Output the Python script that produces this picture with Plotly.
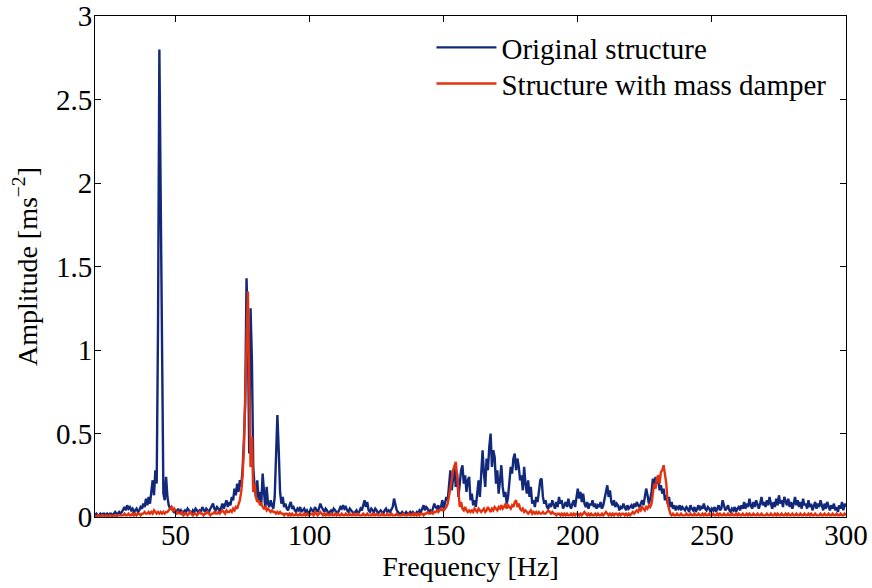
import numpy as np
import plotly.graph_objects as go

# Frequency grid (Hz), 0.5 Hz resolution
freq = np.arange(20.0, 300.0 + 0.25, 0.5)

# Acceleration amplitude spectrum of the original structure [m/s^2]
amp_original = [
    0.01, 0.02, 0.01, 0.01, 0.02, 0.01, 0.02, 0.02, 0.01, 0.02, 0.01, 0.02, 0.02, 0.01, 0.02, 0.03, 0.02, 0.02, 0.03, 0.02,
    0.03, 0.05, 0.06, 0.04, 0.07, 0.05, 0.06, 0.04, 0.05, 0.03, 0.04, 0.05, 0.03, 0.04, 0.06, 0.05, 0.08, 0.06, 0.11, 0.07,
    0.12, 0.08, 0.15, 0.22, 0.13, 0.28, 0.20, 1.15, 2.80, 1.90, 0.80, 0.14, 0.10, 0.24, 0.12, 0.07, 0.05, 0.06, 0.04, 0.03,
    0.04, 0.03, 0.05, 0.03, 0.04, 0.02, 0.03, 0.04, 0.03, 0.05, 0.04, 0.03, 0.02, 0.04, 0.03, 0.05, 0.04, 0.03, 0.04, 0.03,
    0.06, 0.04, 0.03, 0.05, 0.04, 0.03, 0.05, 0.07, 0.08, 0.05, 0.04, 0.06, 0.05, 0.03, 0.06, 0.08, 0.05, 0.07, 0.10, 0.06,
    0.09, 0.07, 0.12, 0.10, 0.17, 0.13, 0.20, 0.15, 0.22, 0.18, 0.28, 0.45, 0.68, 1.43, 1.10, 0.38, 1.25, 0.94, 0.30, 0.18,
    0.12, 0.22, 0.10, 0.15, 0.08, 0.26, 0.12, 0.05, 0.18, 0.08, 0.06, 0.10, 0.07, 0.05, 0.12, 0.35, 0.61, 0.40, 0.15, 0.08,
    0.12, 0.06, 0.08, 0.05, 0.04, 0.07, 0.09, 0.05, 0.06, 0.04, 0.03, 0.05, 0.04, 0.06, 0.03, 0.04, 0.05, 0.03, 0.04, 0.02,
    0.03, 0.05, 0.04, 0.03, 0.06, 0.04, 0.03, 0.05, 0.08, 0.06, 0.04, 0.03, 0.05, 0.04, 0.02, 0.03, 0.04, 0.03, 0.05, 0.04,
    0.03, 0.02, 0.04, 0.06, 0.05, 0.07, 0.05, 0.06, 0.04, 0.03, 0.05, 0.04, 0.03, 0.02, 0.03, 0.04, 0.02, 0.03, 0.05, 0.04,
    0.07, 0.10, 0.06, 0.09, 0.04, 0.03, 0.05, 0.04, 0.03, 0.05, 0.04, 0.02, 0.03, 0.04, 0.03, 0.02, 0.04, 0.05, 0.03, 0.04,
    0.03, 0.05, 0.06, 0.11, 0.07, 0.04, 0.03, 0.02, 0.02, 0.03, 0.02, 0.02, 0.03, 0.02, 0.02, 0.03, 0.02, 0.03, 0.02, 0.02,
    0.03, 0.02, 0.04, 0.03, 0.05, 0.07, 0.04, 0.06, 0.05, 0.03, 0.04, 0.03, 0.05, 0.08, 0.06, 0.05, 0.07, 0.04, 0.06, 0.10,
    0.05, 0.08, 0.12, 0.10, 0.20, 0.28, 0.16, 0.22, 0.30, 0.18, 0.26, 0.12, 0.20, 0.28, 0.31, 0.20, 0.25, 0.15, 0.22, 0.24,
    0.10, 0.14, 0.07, 0.10, 0.06, 0.15, 0.22, 0.12, 0.30, 0.40, 0.26, 0.18, 0.35, 0.28, 0.42, 0.50, 0.30, 0.40, 0.36, 0.20,
    0.28, 0.14, 0.22, 0.31, 0.18, 0.12, 0.15, 0.08, 0.12, 0.20, 0.30, 0.26, 0.35, 0.38, 0.28, 0.35, 0.30, 0.22, 0.25, 0.16,
    0.30, 0.20, 0.14, 0.22, 0.12, 0.18, 0.08, 0.10, 0.06, 0.12, 0.09, 0.15, 0.22, 0.23, 0.12, 0.08, 0.10, 0.06, 0.05, 0.08,
    0.06, 0.10, 0.07, 0.05, 0.09, 0.06, 0.12, 0.08, 0.10, 0.05, 0.07, 0.09, 0.06, 0.11, 0.07, 0.05, 0.08, 0.10, 0.06, 0.12,
    0.17, 0.11, 0.15, 0.09, 0.14, 0.08, 0.06, 0.09, 0.05, 0.08, 0.07, 0.10, 0.06, 0.08, 0.05, 0.07, 0.06, 0.09, 0.05, 0.07,
    0.11, 0.14, 0.19, 0.12, 0.16, 0.09, 0.07, 0.10, 0.06, 0.08, 0.07, 0.04, 0.06, 0.05, 0.08, 0.06, 0.04, 0.07, 0.05, 0.06,
    0.07, 0.05, 0.08, 0.06, 0.09, 0.07, 0.06, 0.08, 0.10, 0.07, 0.12, 0.17, 0.13, 0.08, 0.11, 0.15, 0.23, 0.18, 0.24, 0.20,
    0.23, 0.16, 0.19, 0.14, 0.17, 0.10, 0.13, 0.08, 0.12, 0.06, 0.09, 0.05, 0.07, 0.04, 0.06, 0.05, 0.07, 0.04, 0.06, 0.05,
    0.04, 0.06, 0.05, 0.03, 0.07, 0.05, 0.04, 0.06, 0.03, 0.05, 0.07, 0.04, 0.06, 0.05, 0.08, 0.05, 0.04, 0.06, 0.05, 0.03,
    0.05, 0.04, 0.06, 0.03, 0.05, 0.07, 0.04, 0.05, 0.10, 0.06, 0.04, 0.05, 0.07, 0.04, 0.03, 0.05, 0.04, 0.06, 0.03, 0.05,
    0.06, 0.04, 0.07, 0.05, 0.09, 0.05, 0.08, 0.06, 0.11, 0.07, 0.05, 0.09, 0.06, 0.10, 0.07, 0.05, 0.08, 0.12, 0.07, 0.09,
    0.06, 0.10, 0.07, 0.12, 0.08, 0.05, 0.09, 0.06, 0.11, 0.07, 0.13, 0.08, 0.10, 0.06, 0.12, 0.09, 0.07, 0.11, 0.06, 0.09,
    0.05, 0.08, 0.12, 0.07, 0.10, 0.06, 0.09, 0.05, 0.11, 0.07, 0.08, 0.05, 0.10, 0.06, 0.08, 0.04, 0.07, 0.09, 0.05, 0.08,
    0.06, 0.10, 0.07, 0.04, 0.08, 0.05, 0.09, 0.06, 0.04, 0.07, 0.05, 0.08, 0.04, 0.06, 0.03, 0.07, 0.05, 0.09, 0.04, 0.08,
    0.06,
]

# Acceleration amplitude spectrum with the tuned mass damper fitted [m/s^2]
amp_damped = [
    0.01, 0.00, 0.01, 0.01, 0.00, 0.01, 0.01, 0.00, 0.01, 0.01, 0.00, 0.01, 0.01, 0.00, 0.01, 0.01, 0.00, 0.01, 0.01, 0.01,
    0.01, 0.01, 0.02, 0.01, 0.01, 0.02, 0.01, 0.01, 0.02, 0.01, 0.02, 0.01, 0.02, 0.02, 0.01, 0.02, 0.02, 0.03, 0.02, 0.02,
    0.03, 0.02, 0.03, 0.02, 0.04, 0.03, 0.02, 0.03, 0.02, 0.03, 0.02, 0.03, 0.02, 0.03, 0.03, 0.04, 0.05, 0.06, 0.04, 0.05,
    0.03, 0.02, 0.03, 0.02, 0.02, 0.03, 0.01, 0.02, 0.02, 0.01, 0.02, 0.03, 0.02, 0.01, 0.02, 0.02, 0.01, 0.02, 0.03, 0.02,
    0.02, 0.01, 0.02, 0.02, 0.03, 0.02, 0.01, 0.02, 0.02, 0.03, 0.02, 0.02, 0.03, 0.02, 0.03, 0.04, 0.03, 0.02, 0.04, 0.03,
    0.03, 0.04, 0.03, 0.05, 0.04, 0.06, 0.05, 0.08, 0.10, 0.15, 0.24, 0.40, 0.75, 1.05, 1.35, 0.80, 0.30, 0.48, 0.15, 0.20,
    0.12, 0.09, 0.10, 0.07, 0.08, 0.06, 0.05, 0.06, 0.04, 0.05, 0.04, 0.03, 0.04, 0.03, 0.03, 0.02, 0.03, 0.02, 0.03, 0.02,
    0.02, 0.01, 0.02, 0.02, 0.01, 0.02, 0.01, 0.02, 0.01, 0.01, 0.02, 0.01, 0.01, 0.02, 0.01, 0.01, 0.02, 0.01, 0.02, 0.01,
    0.01, 0.02, 0.02, 0.01, 0.03, 0.02, 0.01, 0.02, 0.03, 0.02, 0.01, 0.02, 0.01, 0.02, 0.01, 0.01, 0.02, 0.01, 0.01, 0.02,
    0.01, 0.02, 0.01, 0.01, 0.02, 0.01, 0.01, 0.02, 0.01, 0.01, 0.02, 0.01, 0.01, 0.02, 0.01, 0.01, 0.02, 0.01, 0.01, 0.01,
    0.02, 0.01, 0.01, 0.02, 0.01, 0.01, 0.01, 0.02, 0.01, 0.01, 0.02, 0.01, 0.01, 0.01, 0.02, 0.01, 0.01, 0.01, 0.02, 0.01,
    0.01, 0.02, 0.01, 0.01, 0.01, 0.02, 0.01, 0.01, 0.01, 0.01, 0.02, 0.01, 0.01, 0.01, 0.02, 0.01, 0.01, 0.02, 0.01, 0.02,
    0.01, 0.02, 0.01, 0.02, 0.02, 0.01, 0.02, 0.02, 0.03, 0.02, 0.02, 0.03, 0.02, 0.03, 0.03, 0.04, 0.03, 0.04, 0.05, 0.04,
    0.04, 0.05, 0.06, 0.08, 0.12, 0.18, 0.22, 0.28, 0.30, 0.33, 0.25, 0.12, 0.06, 0.09, 0.05, 0.04, 0.06, 0.04, 0.03, 0.04,
    0.03, 0.04, 0.03, 0.05, 0.04, 0.03, 0.05, 0.04, 0.03, 0.04, 0.05, 0.03, 0.04, 0.06, 0.04, 0.03, 0.05, 0.04, 0.06, 0.05,
    0.04, 0.06, 0.05, 0.07, 0.05, 0.06, 0.08, 0.05, 0.07, 0.06, 0.05, 0.07, 0.06, 0.09, 0.10, 0.06, 0.08, 0.05, 0.04, 0.05,
    0.03, 0.04, 0.03, 0.02, 0.03, 0.04, 0.02, 0.03, 0.02, 0.03, 0.02, 0.03, 0.02, 0.02, 0.03, 0.02, 0.02, 0.03, 0.04, 0.03,
    0.02, 0.03, 0.02, 0.02, 0.01, 0.02, 0.02, 0.01, 0.02, 0.01, 0.02, 0.01, 0.02, 0.01, 0.01, 0.02, 0.01, 0.02, 0.01, 0.02,
    0.02, 0.01, 0.02, 0.01, 0.02, 0.03, 0.02, 0.01, 0.02, 0.01, 0.02, 0.01, 0.01, 0.02, 0.01, 0.02, 0.01, 0.01, 0.02, 0.01,
    0.02, 0.03, 0.02, 0.01, 0.02, 0.01, 0.02, 0.01, 0.02, 0.02, 0.01, 0.02, 0.01, 0.02, 0.02, 0.01, 0.02, 0.01, 0.02, 0.01,
    0.02, 0.03, 0.02, 0.03, 0.04, 0.03, 0.05, 0.04, 0.06, 0.05, 0.04, 0.06, 0.05, 0.07, 0.06, 0.08, 0.13, 0.20, 0.17, 0.23,
    0.25, 0.20, 0.27, 0.28, 0.31, 0.26, 0.20, 0.08, 0.04, 0.02, 0.01, 0.02, 0.01, 0.01, 0.02, 0.01, 0.01, 0.02, 0.01, 0.01,
    0.01, 0.02, 0.01, 0.01, 0.02, 0.01, 0.01, 0.02, 0.01, 0.01, 0.02, 0.01, 0.01, 0.02, 0.01, 0.02, 0.01, 0.01, 0.02, 0.01,
    0.01, 0.02, 0.01, 0.01, 0.02, 0.01, 0.02, 0.01, 0.01, 0.02, 0.01, 0.01, 0.02, 0.01, 0.01, 0.02, 0.01, 0.01, 0.02, 0.01,
    0.02, 0.01, 0.01, 0.02, 0.01, 0.01, 0.02, 0.01, 0.02, 0.01, 0.01, 0.02, 0.01, 0.01, 0.02, 0.01, 0.01, 0.02, 0.01, 0.01,
    0.01, 0.02, 0.01, 0.01, 0.02, 0.01, 0.01, 0.02, 0.01, 0.02, 0.01, 0.01, 0.02, 0.01, 0.01, 0.02, 0.01, 0.02, 0.01, 0.01,
    0.02, 0.01, 0.01, 0.02, 0.01, 0.01, 0.02, 0.01, 0.01, 0.02, 0.01, 0.01, 0.02, 0.01, 0.02, 0.01, 0.01, 0.02, 0.01, 0.01,
    0.01, 0.02, 0.01, 0.01, 0.02, 0.01, 0.01, 0.02, 0.01, 0.01, 0.02, 0.01, 0.01, 0.02, 0.01, 0.01, 0.02, 0.01, 0.01, 0.02,
    0.01,
]

series_names = ["Original structure", "Structure with mass damper"]
series_colors = ["#12287a", "#e4320e"]

x_ticks = [50, 100, 150, 200, 250, 300]
y_ticks = [0, 0.5, 1, 1.5, 2, 2.5, 3]
y_tick_labels = ["0", "0.5", "1", "1.5", "2", "2.5", "3"]

FONT = "Liberation Serif, Times New Roman, serif"

# One single-entry legend per series, stacked at a tight line spacing
legend_ids = ["legend", "legend2"]
legend_tops = [0.988, 0.916]

fig = go.Figure()
for name, color, amp, lg in zip(series_names, series_colors, [amp_original, amp_damped], legend_ids):
    fig.add_trace(go.Scatter(
        x=freq, y=amp, mode="lines", name=name, legend=lg,
        line=dict(color=color, width=2.4),
    ))

axis_common = dict(
    showline=True, linecolor="black", linewidth=1, mirror="ticks",
    ticks="inside", ticklen=6, tickcolor="black", tickwidth=1,
    showgrid=False, zeroline=False, automargin=False,
    ticklabeloverflow="allow",
    tickfont=dict(family=FONT, size=29, color="black"),
)

fig.update_xaxes(
    range=[20, 300], tickvals=x_ticks, ticklabelstandoff=-8,
    title=dict(text="Frequency [Hz]", font=dict(family=FONT, size=28, color="black"), standoff=3),
    **axis_common,
)
fig.update_yaxes(
    range=[0, 3], tickvals=y_ticks, ticktext=y_tick_labels, ticklabelstandoff=-4,
    title=dict(text="Amplitude [ms<sup>\u22122</sup>]", font=dict(family=FONT, size=28, color="black"), standoff=10),
    **axis_common,
)

legend_style = dict(
    x=0.448, xanchor="left", yanchor="top",
    bgcolor="rgba(255,255,255,0)", borderwidth=0,
    font=dict(family=FONT, size=29, color="black"),
    itemwidth=60,
)

fig.update_layout(
    width=872, height=588,
    margin=dict(l=95, r=26, t=16, b=71),
    paper_bgcolor="white", plot_bgcolor="white",
    legend=dict(y=legend_tops[0], **legend_style),
    legend2=dict(y=legend_tops[1], **legend_style),
    showlegend=True,
)

fig.write_html("out.html")
